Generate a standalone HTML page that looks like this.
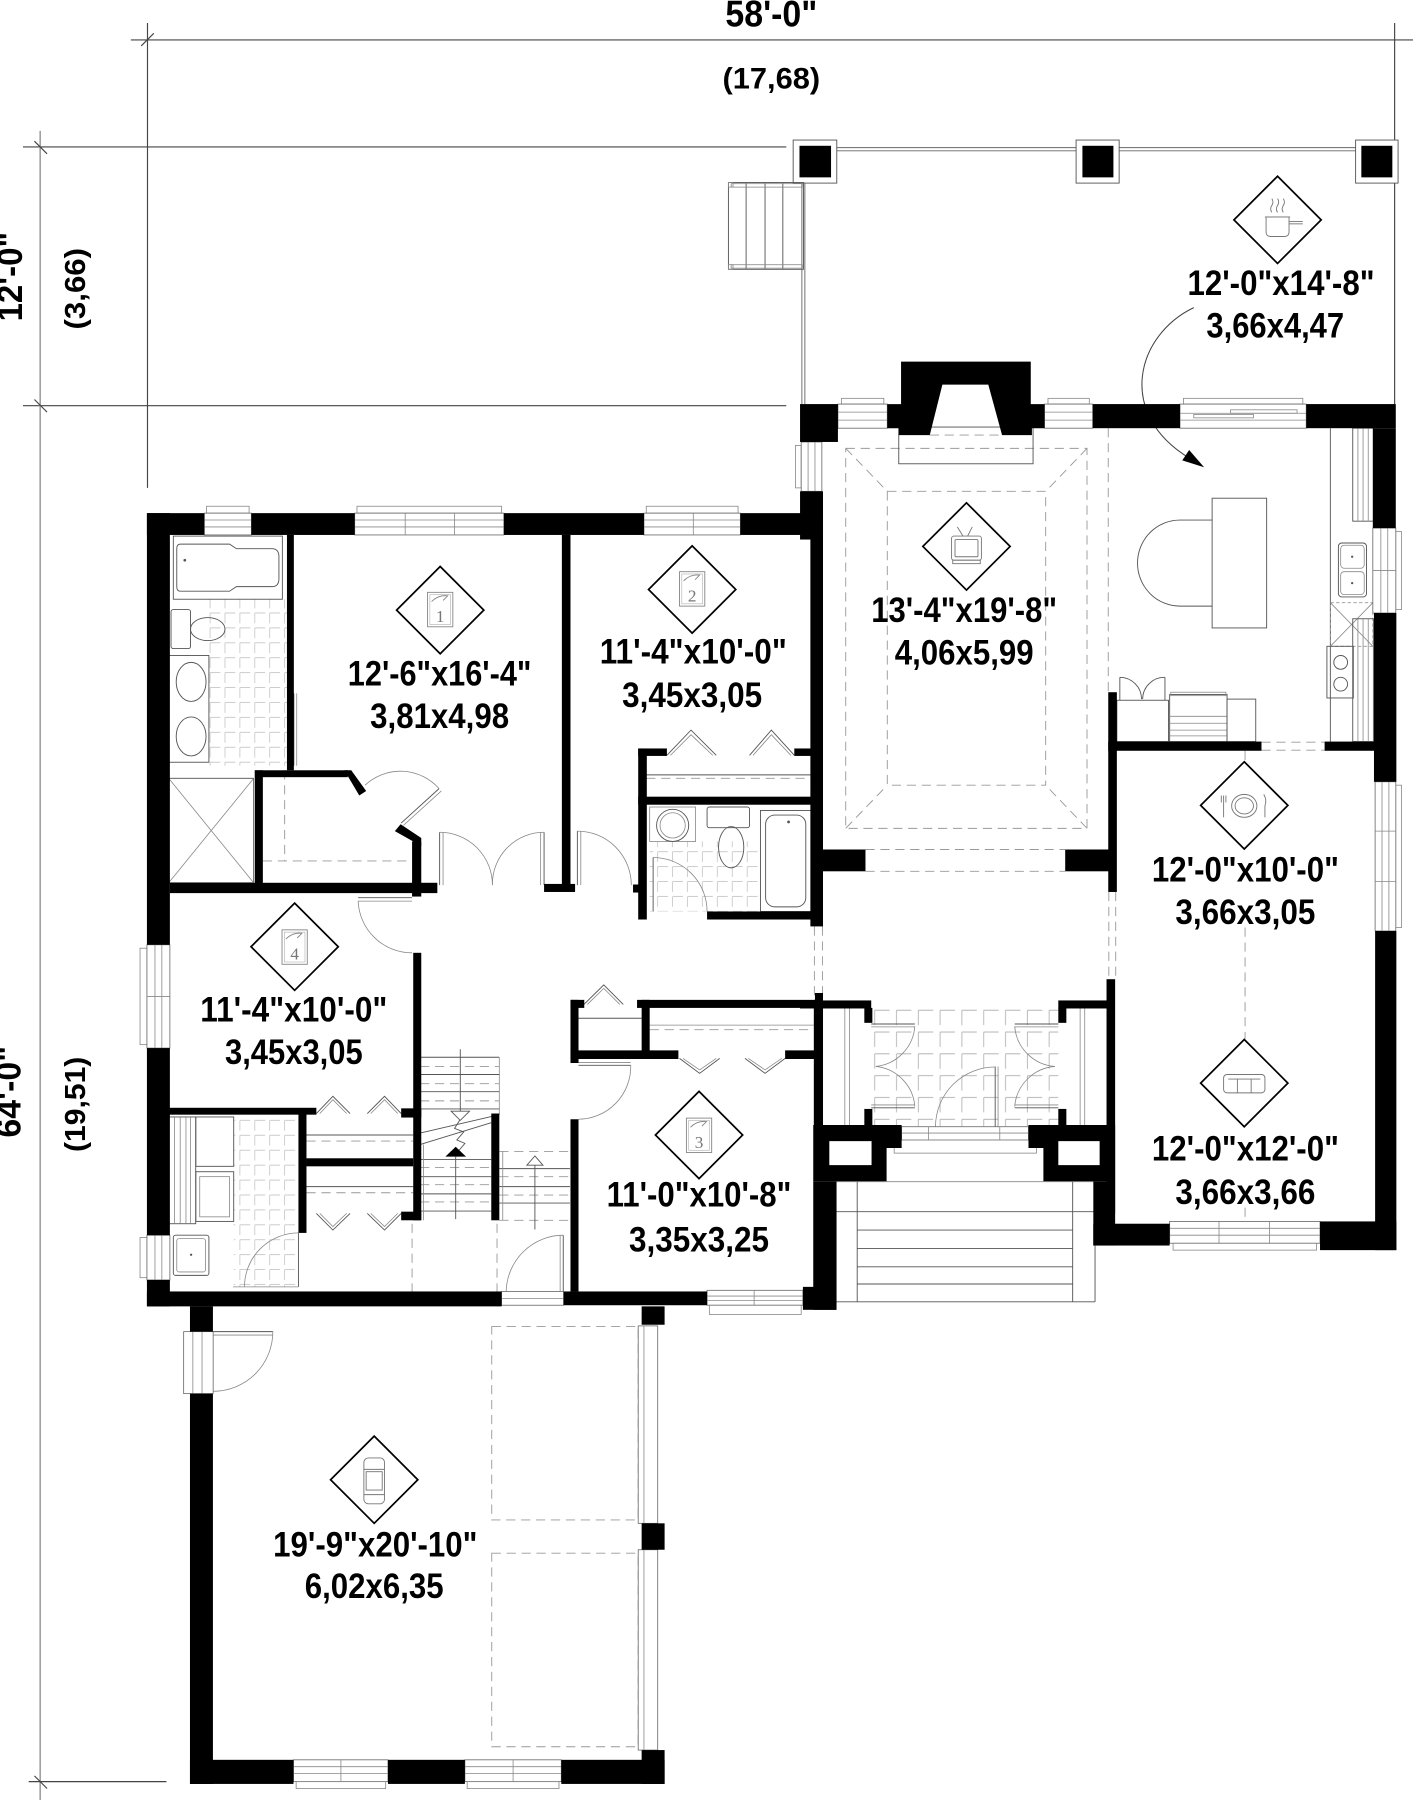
<!DOCTYPE html>
<html><head><meta charset="utf-8">
<style>
html,body{margin:0;padding:0;background:#fff;}
svg{display:block;}
.t{font-family:"Liberation Sans",Arial,sans-serif;font-weight:bold;fill:#000;}
.w{fill:#000;}
.th{fill:none;stroke:#555;stroke-width:.8;}
.lg{fill:none;stroke:#888;stroke-width:.7;}
.win{fill:#fff;stroke:#666;stroke-width:.7;}
.dash{fill:none;stroke:#999;stroke-width:.8;stroke-dasharray:8 5;}
.dim{stroke:#444;stroke-width:1;fill:none;}
</style></head><body>
<svg xmlns="http://www.w3.org/2000/svg" width="1413" height="1800" viewBox="0 0 1231 1568" preserveAspectRatio="none">
<defs>
<pattern id="tile" width="13" height="13" patternUnits="userSpaceOnUse"><path d="M1 1H10M1 1V10" stroke="#bbb" stroke-width=".6" fill="none"/></pattern>
<pattern id="tile2" x="760" y="878" width="19" height="19" patternUnits="userSpaceOnUse"><path d="M2 2H15M2 2V15" stroke="#aaa" stroke-width=".7" fill="none"/></pattern>
</defs>
<rect width="1231" height="1568" fill="#fff"/>

<!-- DIMENSIONS -->
<line class="dim" x1="114" y1="34.8" x2="1231" y2="34.8"/>
<line class="dim" x1="128.5" y1="20" x2="128.5" y2="425"/>
<line class="dim" x1="20" y1="128" x2="685" y2="128"/>
<line class="dim" x1="20" y1="353.4" x2="685" y2="353.4"/>
<line x1="35" y1="114" x2="35" y2="1568" stroke="#999" stroke-width="1.3"/>
<line class="dim" x1="25" y1="1552" x2="145" y2="1552"/>
<line class="dim" x1="123" y1="40" x2="134" y2="29"/>
<line class="dim" x1="30" y1="123" x2="41" y2="134"/>
<line class="dim" x1="30" y1="348" x2="41" y2="359"/>
<line class="dim" x1="30" y1="1547" x2="41" y2="1558"/>
<line class="dim" x1="1215" y1="20" x2="1215" y2="352"/>

<text class="t" x="672" y="23" font-size="32" text-anchor="middle" textLength="80" lengthAdjust="spacingAndGlyphs">58'-0"</text>
<text class="t" x="672" y="77" font-size="26" text-anchor="middle" textLength="85" lengthAdjust="spacingAndGlyphs">(17,68)</text>
<text class="t" transform="translate(19,241) rotate(-90)" font-size="31" text-anchor="middle" textLength="78" lengthAdjust="spacingAndGlyphs">12'-0"</text>
<text class="t" transform="translate(74,251.5) rotate(-90)" font-size="25" text-anchor="middle" textLength="71" lengthAdjust="spacingAndGlyphs">(3,66)</text>
<text class="t" transform="translate(18,951) rotate(-90)" font-size="31" text-anchor="middle" textLength="80" lengthAdjust="spacingAndGlyphs">64'-0"</text>
<text class="t" transform="translate(74,962) rotate(-90)" font-size="25" text-anchor="middle" textLength="83" lengthAdjust="spacingAndGlyphs">(19,51)</text>

<!-- PORCH -->
<line x1="729" y1="128.6" x2="937.5" y2="128.6" stroke="#666" stroke-width=".8"/>
<line x1="729" y1="131.4" x2="937.5" y2="131.4" stroke="#666" stroke-width=".8"/>
<line x1="975" y1="128.6" x2="1181" y2="128.6" stroke="#666" stroke-width=".8"/>
<line x1="975" y1="131.4" x2="1181" y2="131.4" stroke="#666" stroke-width=".8"/>
<rect x="691" y="122" width="38" height="37.5" fill="#fff" stroke="#555" stroke-width=".8"/>
<rect x="696.5" y="127" width="27.5" height="27.5" fill="#000"/>
<rect x="937.5" y="122" width="37.5" height="37.5" fill="#fff" stroke="#555" stroke-width=".8"/>
<rect x="943" y="127" width="27" height="27.5" fill="#000"/>
<rect x="1181" y="122" width="37" height="37.5" fill="#fff" stroke="#555" stroke-width=".8"/>
<rect x="1186" y="127" width="27" height="27.5" fill="#000"/>
<line x1="698.6" y1="159" x2="698.6" y2="352" stroke="#666" stroke-width=".8"/>
<line x1="701.2" y1="159" x2="701.2" y2="352" stroke="#666" stroke-width=".8"/>
<rect x="634.6" y="159" width="65.4" height="75.6" class="th"/>
<line x1="650" y1="159" x2="650" y2="234.6" class="th"/>
<line x1="666.5" y1="159" x2="666.5" y2="234.6" class="th"/>
<line x1="682" y1="159" x2="682" y2="234.6" class="th"/>
<rect x="637" y="160" width="62" height="3" class="lg"/>
<rect x="637" y="230.6" width="62" height="3" class="lg"/>
<rect x="634.6" y="159" width="4" height="4" class="lg"/>
<rect x="634.6" y="230.6" width="4" height="4" class="lg"/>

<!-- KITCHEN ARROW -->
<path d="M1040,268 C990,292 972,360 1036,399" fill="none" stroke="#444" stroke-width=".9"/>
<polygon points="1049,407 1030,401 1036,392" fill="#000"/>

<!-- FAMILY ROOM CEILING -->
<rect x="736.8" y="390.6" width="210.2" height="331" class="dash"/>
<rect x="773" y="428" width="138" height="256" class="dash"/>
<line x1="736.8" y1="390.6" x2="773" y2="428" class="dash"/>
<line x1="947" y1="390.6" x2="911" y2="428" class="dash"/>
<line x1="736.8" y1="721.6" x2="773" y2="684" class="dash"/>
<line x1="947" y1="721.6" x2="911" y2="684" class="dash"/>
<line x1="965.5" y1="373" x2="965.5" y2="603" class="dash"/>
<rect x="783" y="372" width="117" height="32" class="th" fill="#fff"/>
<line x1="810" y1="379" x2="873" y2="379" class="dash"/>
<line x1="754" y1="740" x2="928" y2="740" class="dash"/>
<line x1="754" y1="759" x2="928" y2="759" class="dash"/>
<line x1="966" y1="777" x2="966" y2="853" class="dash"/>
<line x1="972" y1="777" x2="972" y2="853" class="dash"/>
<line x1="709.5" y1="807" x2="709.5" y2="871" class="dash"/>
<line x1="716.5" y1="807" x2="716.5" y2="871" class="dash"/>
<line x1="1099" y1="646.5" x2="1154" y2="646.5" class="dash"/>
<line x1="1099" y1="653.5" x2="1154" y2="653.5" class="dash"/>
<line x1="1084.7" y1="654" x2="1084.7" y2="664" class="dash"/>
<line x1="1084.7" y1="808" x2="1084.7" y2="905" class="dash"/>
<line x1="1084.7" y1="1052" x2="1084.7" y2="1064" class="dash"/>

<!-- KITCHEN FIXTURES -->
<line x1="1159" y1="373" x2="1159" y2="646" class="th"/>
<rect x="1178.5" y="373" width="18" height="81" class="th"/>
<line x1="1183" y1="373" x2="1183" y2="454" class="lg"/>
<line x1="1187.5" y1="373" x2="1187.5" y2="454" class="lg"/>
<line x1="1192" y1="373" x2="1192" y2="454" class="lg"/>
<rect x="1166" y="473" width="24.5" height="47" rx="3" class="th"/>
<rect x="1168" y="475" width="20.5" height="20" rx="3" class="lg"/>
<rect x="1168" y="498" width="20.5" height="20" rx="3" class="lg"/>
<circle cx="1178" cy="485" r="1" fill="#555"/>
<circle cx="1178" cy="508" r="1" fill="#555"/>
<rect x="1159" y="525" width="37" height="38" fill="none" stroke="#999" stroke-width=".7" stroke-dasharray="3 2"/>
<line x1="1159" y1="525" x2="1196" y2="563" class="lg"/>
<line x1="1196" y1="525" x2="1159" y2="563" class="lg"/>
<rect x="1156" y="563" width="23" height="45" class="th"/>
<circle cx="1168" cy="577" r="6" class="th"/>
<circle cx="1168" cy="596" r="6" class="th"/>
<rect x="1178.5" y="539" width="18" height="107" class="th"/>
<line x1="1183" y1="539" x2="1183" y2="646" class="lg"/>
<line x1="1187.5" y1="539" x2="1187.5" y2="646" class="lg"/>
<line x1="1192" y1="539" x2="1192" y2="646" class="lg"/>
<rect x="1056" y="434" width="47.5" height="113" class="th" fill="#fff"/>
<path d="M1056,453 H1028 A37,37.5 0 0 0 1028,528 H1056" class="th"/>
<line x1="975.6" y1="590" x2="975.6" y2="610" class="th"/>
<line x1="1014.9" y1="590" x2="1014.9" y2="610" class="th"/>
<path d="M975.6,590 A19,19 0 0 1 994.5,609" class="th"/>
<path d="M1014.9,590 A19,19 0 0 0 995.5,609" class="th"/>
<rect x="973" y="610" width="45" height="36" class="th"/>
<rect x="1019" y="605" width="50" height="41" class="th"/>
<rect x="1020" y="603" width="48" height="3" class="lg"/>
<line x1="1019" y1="624" x2="1069" y2="624" class="lg"/>
<line x1="1019" y1="630" x2="1069" y2="630" class="lg"/>
<line x1="1019" y1="636" x2="1069" y2="636" class="lg"/>
<line x1="1019" y1="641" x2="1069" y2="641" class="lg"/>
<rect x="1069" y="609" width="25" height="37" class="th"/>

<!-- MASTER BATH -->
<rect x="182" y="522" width="68" height="145" fill="url(#tile)"/>
<rect x="151" y="467" width="95" height="55" class="th"/>
<path d="M157,474 H200 L206,478 H237 Q243,478 243,485 V504 Q243,511 237,511 H206 L200,515 H157 Q154,515 154,511 V478 Q154,474 157,474 Z" class="th"/>
<circle cx="161" cy="488" r="1.2" fill="#555"/>
<rect x="149" y="531" width="17" height="34" rx="2" class="th"/>
<ellipse cx="181" cy="548" rx="15" ry="10" class="th"/>
<rect x="147" y="571" width="35" height="93" class="th"/>
<ellipse cx="166.5" cy="594" rx="13" ry="17" class="th"/>
<ellipse cx="166.5" cy="641.5" rx="13" ry="17" class="th"/>
<rect x="147" y="678" width="74" height="91" class="th"/>
<line x1="147" y1="678" x2="221" y2="769" class="lg"/>
<line x1="221" y1="678" x2="147" y2="769" class="lg"/>
<line x1="256" y1="604" x2="256" y2="667" class="th"/>
<line x1="258.5" y1="604" x2="258.5" y2="667" class="lg"/>
<line x1="248" y1="671" x2="248" y2="750" class="dash"/>
<line x1="229" y1="750" x2="359" y2="750" class="dash"/>
<line x1="349.5" y1="717" x2="382.5" y2="687" class="th"/>
<line x1="351.5" y1="719" x2="384.5" y2="689" class="lg"/>
<path d="M382.5,687 A45,45 0 0 0 318,684" class="lg"/>

<!-- BEDROOM DOORS -->
<line x1="383" y1="771" x2="383" y2="725" class="th"/>
<line x1="386" y1="771" x2="386" y2="725" class="lg"/>
<path d="M383,725 A46,46 0 0 1 429,771" class="lg"/>
<line x1="474" y1="771" x2="474" y2="725" class="th"/>
<line x1="471" y1="771" x2="471" y2="725" class="lg"/>
<path d="M474,725 A45,45 0 0 0 429,771" class="lg"/>
<line x1="503" y1="771" x2="503" y2="724" class="th"/>
<line x1="506" y1="771" x2="506" y2="724" class="lg"/>
<path d="M503,724 A47,47 0 0 1 550,771" class="lg"/>
<polyline points="581,658 602,636 624,658" class="th"/>
<polyline points="584,658 602,640 621,658" class="lg"/>
<polyline points="653,658 672,636 692,658" class="th"/>
<polyline points="656,658 672,640 689,658" class="lg"/>
<line x1="563" y1="675" x2="709" y2="675" class="th"/>
<line x1="563" y1="678" x2="709" y2="678" class="dash"/>
<!-- bath 2 -->
<rect x="566" y="733" width="96" height="61" fill="url(#tile)"/>
<rect x="566" y="703" width="40" height="30" class="lg"/>
<circle cx="586" cy="719" r="14" class="th"/>
<circle cx="586" cy="719" r="11" class="lg"/>
<rect x="616" y="703" width="37" height="18" rx="2" class="th"/>
<ellipse cx="637" cy="738" rx="11" ry="18" class="th"/>
<rect x="662.5" y="706" width="44.5" height="88" class="th"/>
<rect x="667" y="710" width="35" height="80" rx="8" class="th"/>
<circle cx="687" cy="716" r="1.2" fill="#555"/>
<line x1="569" y1="747" x2="569" y2="794" class="th"/>
<path d="M569,747 A47,47 0 0 1 616,794" class="lg"/>

<!-- BEDROOM 4 door & closets -->
<line x1="312" y1="782" x2="359" y2="782" class="th"/>
<line x1="312" y1="785" x2="359" y2="785" class="lg"/>
<path d="M312,785 A47,47 0 0 0 359,830" class="lg"/>
<polyline points="275.6,970 290,955 305,970" class="th"/>
<polyline points="278.6,970 290,958 302,970" class="lg"/>
<polyline points="320,970 335,955 349.5,970" class="th"/>
<polyline points="323,970 335,958 346.5,970" class="lg"/>
<line x1="267" y1="988.7" x2="360" y2="988.7" class="th"/>
<line x1="267" y1="994" x2="360" y2="994" class="dash"/>
<line x1="267" y1="1033.7" x2="360" y2="1033.7" class="th"/>
<line x1="267" y1="1039" x2="360" y2="1039" class="dash"/>
<polyline points="275.6,1057 290,1071.5 305,1057" class="th"/>
<polyline points="278.6,1057 290,1068.5 302,1057" class="lg"/>
<polyline points="320,1057 335,1071.5 349.5,1057" class="th"/>
<polyline points="323,1057 335,1068.5 346.5,1057" class="lg"/>
<!-- laundry -->
<rect x="203.6" y="973" width="56.4" height="148" fill="url(#tile)"/>
<rect x="147" y="973" width="23.5" height="93" class="th"/>
<line x1="152" y1="973" x2="152" y2="1066" class="lg"/>
<line x1="157" y1="973" x2="157" y2="1066" class="lg"/>
<line x1="162" y1="973" x2="162" y2="1066" class="lg"/>
<line x1="166" y1="973" x2="166" y2="1066" class="lg"/>
<rect x="170.6" y="973" width="33" height="43" class="th"/>
<rect x="170.6" y="1020.7" width="33" height="43.3" class="th"/>
<rect x="174" y="1025" width="26" height="35" class="lg"/>
<rect x="151" y="1076" width="31" height="35" rx="2" class="th"/>
<rect x="154" y="1079" width="25" height="29" rx="2" class="lg"/>
<circle cx="166.5" cy="1093" r="1" fill="#555"/>
<line x1="260" y1="1074" x2="260" y2="1121" class="th"/>
<path d="M260,1074 A47,47 0 0 0 213,1121" class="lg"/>
<line x1="203" y1="1121" x2="260" y2="1121" class="lg"/>

<!-- STAIRS -->
<line x1="366" y1="921" x2="435" y2="921" class="th"/>
<line x1="435" y1="921" x2="435" y2="971" class="lg"/>
<line x1="366" y1="936" x2="435" y2="936" class="th"/>
<line x1="366" y1="929" x2="435" y2="929" class="dash"/>
<line x1="366" y1="951" x2="435" y2="951" class="th"/>
<line x1="366" y1="944" x2="435" y2="944" class="dash"/>
<line x1="366" y1="966" x2="435" y2="966" class="th"/>
<line x1="366" y1="959" x2="435" y2="959" class="dash"/>
<line x1="366" y1="987" x2="435" y2="971" class="th"/>
<line x1="366" y1="997" x2="428" y2="978" class="th"/>
<polyline points="401,975 396,983 404,986 398,993 405,996 400,1002" class="th"/>
<line x1="401" y1="914" x2="401" y2="968" class="th"/>
<polygon points="393,968 409,968 401,976" fill="#fff" stroke="#555" stroke-width=".8"/>
<line x1="366" y1="1010" x2="428" y2="1010" class="th"/>
<line x1="366" y1="1017" x2="428" y2="1017" class="dash"/>
<line x1="366" y1="1025" x2="428" y2="1025" class="th"/>
<line x1="366" y1="1032" x2="428" y2="1032" class="dash"/>
<line x1="366" y1="1040" x2="428" y2="1040" class="th"/>
<line x1="366" y1="1047" x2="428" y2="1047" class="dash"/>
<line x1="366" y1="1055" x2="428" y2="1055" class="th"/>
<line x1="369" y1="997" x2="369" y2="1063" class="lg"/>
<polygon points="397,999 388,1007.5 406,1007.5" fill="#000"/>
<line x1="397" y1="1007.5" x2="397" y2="1062" class="th"/>
<line x1="435" y1="1003" x2="496.5" y2="1003" class="dash"/>
<line x1="435" y1="1018" x2="496.5" y2="1018" class="th"/>
<line x1="435" y1="1025" x2="496.5" y2="1025" class="dash"/>
<line x1="435" y1="1033.7" x2="496.5" y2="1033.7" class="th"/>
<line x1="435" y1="1041" x2="496.5" y2="1041" class="dash"/>
<line x1="435" y1="1048" x2="496.5" y2="1048" class="th"/>
<line x1="435" y1="1063" x2="496.5" y2="1063" class="dash"/>
<line x1="438" y1="1003" x2="438" y2="1063" class="lg"/>
<polygon points="466,1007 459,1015 473,1015" fill="#fff" stroke="#555" stroke-width=".8"/>
<line x1="466" y1="1015" x2="466" y2="1071" class="th"/>
<line x1="359" y1="1066" x2="359" y2="1125" class="dash"/>
<line x1="433" y1="1066" x2="433" y2="1125" class="dash"/>

<!-- COAT CLOSET / BED3 -->
<polyline points="508.7,875 526,858 543,875" class="th"/>
<polyline points="511.7,875 526,861 540,875" class="lg"/>
<line x1="504" y1="887" x2="559" y2="887" class="th"/>
<line x1="566" y1="897" x2="709" y2="897" class="dash"/>
<line x1="566" y1="893" x2="709" y2="893" class="lg"/>
<polyline points="592,922 609.5,935 627,922" class="th"/>
<polyline points="595,922 609.5,932 624,922" class="lg"/>
<polyline points="649,922 666.5,935 684,922" class="th"/>
<polyline points="652,922 666.5,932 681,922" class="lg"/>
<line x1="504" y1="928" x2="549.5" y2="928" class="th"/>
<line x1="504" y1="925.5" x2="549.5" y2="925.5" class="lg"/>
<path d="M549.5,928 A46,46 0 0 1 504,975" class="lg"/>
<line x1="490.7" y1="1076" x2="490.7" y2="1125" class="th"/>
<line x1="488" y1="1076" x2="488" y2="1125" class="lg"/>
<path d="M490.7,1076 A50,50 0 0 0 441,1125" class="lg"/>
<rect x="437" y="1125" width="54" height="12" class="win"/>
<line x1="437" y1="1131" x2="491" y2="1131" class="lg"/>

<!-- FOYER -->
<rect x="760" y="878" width="162" height="103" fill="url(#tile2)"/>
<line x1="736" y1="878" x2="736" y2="981" class="lg"/>
<line x1="740" y1="878" x2="740" y2="981" class="lg"/>
<line x1="945" y1="878" x2="945" y2="981" class="lg"/>
<line x1="941" y1="878" x2="941" y2="981" class="lg"/>
<line x1="759" y1="892" x2="797" y2="892" class="th"/>
<line x1="759" y1="894.5" x2="797" y2="894.5" class="lg"/>
<path d="M797,894 A38,38 0 0 1 763,929" class="lg"/>
<line x1="759" y1="965" x2="797" y2="965" class="th"/>
<line x1="759" y1="962.5" x2="797" y2="962.5" class="lg"/>
<path d="M797,964 A38,38 0 0 0 763,929" class="lg"/>
<line x1="884" y1="892" x2="922" y2="892" class="th"/>
<line x1="884" y1="894.5" x2="922" y2="894.5" class="lg"/>
<path d="M884,894 A38,38 0 0 0 919,929" class="lg"/>
<line x1="884" y1="965" x2="922" y2="965" class="th"/>
<line x1="884" y1="962.5" x2="922" y2="962.5" class="lg"/>
<path d="M884,964 A38,38 0 0 1 919,929" class="lg"/>
<line x1="867" y1="929" x2="867" y2="981.5" class="th"/>
<line x1="869.5" y1="929" x2="869.5" y2="981.5" class="lg"/>
<path d="M867,929.5 A52,52 0 0 0 815,981.5" class="lg"/>
<rect x="785.5" y="981.5" width="110.5" height="11.5" class="win"/>
<line x1="785.5" y1="987" x2="896" y2="987" class="lg"/>
<line x1="809" y1="981.5" x2="809" y2="993" class="lg"/>
<line x1="871" y1="981.5" x2="871" y2="993" class="lg"/>
<rect x="779" y="993" width="124" height="11.5" class="lg"/>
<line x1="728.8" y1="1029.4" x2="954" y2="1029.4" class="lg"/>
<line x1="746.8" y1="1029.4" x2="746.8" y2="1134" class="th"/>
<line x1="934.5" y1="1029.4" x2="934.5" y2="1134" class="th"/>
<line x1="728.8" y1="1055.5" x2="954" y2="1055.5" class="th"/>
<line x1="746.8" y1="1071.5" x2="934.5" y2="1071.5" class="th"/>
<line x1="746.8" y1="1087.5" x2="934.5" y2="1087.5" class="th"/>
<line x1="746.8" y1="1103.5" x2="934.5" y2="1103.5" class="th"/>
<line x1="746.8" y1="1118.5" x2="934.5" y2="1118.5" class="th"/>
<line x1="728.8" y1="1134" x2="954" y2="1134" class="th"/>
<line x1="954" y1="1085" x2="954" y2="1134" class="th"/>

<!-- GARAGE -->
<rect x="428.4" y="1155.6" width="127.6" height="168.4" class="dash"/>
<rect x="428.4" y="1353" width="127.6" height="168.6" class="dash"/>
<rect x="556" y="1155" width="17" height="172" class="win"/>
<line x1="561" y1="1155" x2="561" y2="1327" class="lg"/>
<rect x="556" y="1350" width="17" height="174.5" class="win"/>
<line x1="561" y1="1350" x2="561" y2="1524.5" class="lg"/>
<rect x="160" y="1160" width="25.7" height="54" class="win"/>
<line x1="168" y1="1160" x2="168" y2="1214" class="lg"/>
<line x1="176" y1="1160" x2="176" y2="1214" class="lg"/>
<line x1="185.7" y1="1160" x2="237.7" y2="1160" class="th"/>
<line x1="185.7" y1="1163" x2="237.7" y2="1163" class="lg"/>
<path d="M237.7,1160 A52,52 0 0 1 185.7,1212" class="lg"/>

<!-- WINDOWS -->
<rect x="180" y="441" width="37" height="6" class="lg"/>
<rect x="178" y="447" width="41" height="19" class="win"/>
<line x1="178" y1="453" x2="219" y2="453" class="lg"/><line x1="178" y1="459" x2="219" y2="459" class="lg"/>
<rect x="311" y="441" width="126" height="6" class="lg"/>
<rect x="309" y="447" width="130" height="19" class="win"/>
<line x1="309" y1="453" x2="439" y2="453" class="lg"/><line x1="309" y1="459" x2="439" y2="459" class="lg"/>
<line x1="353" y1="447" x2="353" y2="466" class="lg"/><line x1="396" y1="447" x2="396" y2="466" class="lg"/>
<rect x="563" y="441" width="80" height="6" class="lg"/>
<rect x="561" y="447" width="84" height="19" class="win"/>
<line x1="561" y1="453" x2="645" y2="453" class="lg"/><line x1="561" y1="459" x2="645" y2="459" class="lg"/>
<line x1="604" y1="447" x2="604" y2="466" class="lg"/>
<rect x="122" y="826" width="6" height="84" class="lg"/>
<rect x="128" y="823" width="20" height="90" class="win"/>
<line x1="135" y1="823" x2="135" y2="913" class="lg"/><line x1="141" y1="823" x2="141" y2="913" class="lg"/>
<line x1="128" y1="868" x2="148" y2="868" class="lg"/>
<rect x="122" y="1078" width="6" height="35" class="lg"/>
<rect x="128" y="1076" width="20" height="39" class="win"/>
<line x1="135" y1="1076" x2="135" y2="1115" class="lg"/><line x1="141" y1="1076" x2="141" y2="1115" class="lg"/>
<rect x="616" y="1124" width="83.5" height="13" class="win"/>
<line x1="616" y1="1129" x2="699.5" y2="1129" class="lg"/><line x1="616" y1="1133" x2="699.5" y2="1133" class="lg"/>
<line x1="657" y1="1124" x2="657" y2="1137" class="lg"/>
<rect x="618" y="1137" width="80" height="8" class="lg"/>
<rect x="255.7" y="1533" width="82.3" height="19" class="win"/>
<line x1="255.7" y1="1539" x2="338" y2="1539" class="lg"/><line x1="255.7" y1="1545" x2="338" y2="1545" class="lg"/>
<line x1="297" y1="1533" x2="297" y2="1552" class="lg"/>
<rect x="258" y="1552" width="78" height="6" class="lg"/>
<rect x="405" y="1533" width="84" height="19" class="win"/>
<line x1="405" y1="1539" x2="489" y2="1539" class="lg"/><line x1="405" y1="1545" x2="489" y2="1545" class="lg"/>
<line x1="447" y1="1533" x2="447" y2="1552" class="lg"/>
<rect x="407" y="1552" width="80" height="6" class="lg"/>
<rect x="733" y="347" width="37" height="5" class="lg"/>
<rect x="730" y="352" width="43" height="21" class="win"/>
<line x1="730" y1="359" x2="773" y2="359" class="lg"/><line x1="730" y1="366" x2="773" y2="366" class="lg"/>
<rect x="913" y="347" width="36" height="5" class="lg"/>
<rect x="910" y="352" width="42" height="21" class="win"/>
<line x1="910" y1="359" x2="952" y2="359" class="lg"/><line x1="910" y1="366" x2="952" y2="366" class="lg"/>
<rect x="693" y="388" width="5" height="37" class="lg"/>
<rect x="698" y="385" width="18" height="43" class="win"/>
<line x1="704" y1="385" x2="704" y2="428" class="lg"/><line x1="710" y1="385" x2="710" y2="428" class="lg"/>
<rect x="1031" y="347" width="104" height="5" class="lg"/>
<rect x="1028" y="352" width="110" height="21" class="win"/>
<line x1="1028" y1="360" x2="1138" y2="360" class="lg"/><line x1="1028" y1="366" x2="1138" y2="366" class="lg"/>
<rect x="1040" y="361" width="52" height="3" class="lg"/>
<rect x="1072" y="357" width="58" height="3" class="lg"/>
<rect x="1196" y="460" width="20" height="74" class="win"/>
<line x1="1203" y1="460" x2="1203" y2="534" class="lg"/><line x1="1209" y1="460" x2="1209" y2="534" class="lg"/>
<line x1="1196" y1="497" x2="1216" y2="497" class="lg"/>
<rect x="1216" y="463" width="5" height="68" class="lg"/>
<rect x="1198" y="681" width="18" height="130" class="win"/>
<line x1="1204" y1="681" x2="1204" y2="811" class="lg"/><line x1="1210" y1="681" x2="1210" y2="811" class="lg"/>
<line x1="1198" y1="724" x2="1216" y2="724" class="lg"/><line x1="1198" y1="768" x2="1216" y2="768" class="lg"/>
<rect x="1216" y="684" width="5" height="124" class="lg"/>
<rect x="1019" y="1064" width="131" height="19" class="win"/>
<line x1="1019" y1="1070" x2="1150" y2="1070" class="lg"/><line x1="1019" y1="1076" x2="1150" y2="1076" class="lg"/>
<line x1="1062" y1="1064" x2="1062" y2="1083" class="lg"/><line x1="1106" y1="1064" x2="1106" y2="1083" class="lg"/>
<rect x="1022" y="1083" width="125" height="6" class="lg"/>

<!-- WALLS -->
<g class="w">
<rect x="128" y="447" width="50" height="19"/>
<rect x="219" y="447" width="90" height="19"/>
<rect x="439" y="447" width="122" height="19"/>
<rect x="645" y="447" width="72" height="19"/>
<rect x="128" y="447" width="20" height="376"/>
<rect x="128" y="913" width="20" height="163"/>
<rect x="128" y="1115" width="20" height="23"/>
<rect x="128" y="1125" width="309" height="13"/>
<rect x="491" y="1125" width="125" height="12"/>
<rect x="699.5" y="1121" width="29" height="20"/>
<rect x="489.5" y="466" width="7.5" height="305"/>
<rect x="474" y="770" width="27" height="7"/>
<rect x="148" y="769" width="233" height="9"/>
<rect x="222" y="671" width="7" height="100"/>
<rect x="222" y="671" width="81" height="6"/>
<polygon points="300,671 306,671 319,689 313,693"/>
<polygon points="344,724 349,718 367,730 367,737"/>
<rect x="359" y="733" width="8" height="48"/>
<rect x="250" y="466" width="6" height="205"/>
<rect x="556" y="652" width="7.5" height="149"/>
<rect x="556" y="652" width="25" height="6.5"/>
<rect x="692" y="652" width="23" height="6.5"/>
<rect x="556" y="694" width="159" height="7"/>
<rect x="616" y="794" width="99" height="7"/>
<rect x="551.5" y="770.5" width="8" height="7"/>
<rect x="706" y="466" width="11" height="341"/>
<rect x="697" y="352" width="33" height="33"/>
<rect x="697" y="428" width="20" height="42"/>
<rect x="716" y="740" width="38" height="19"/>
<rect x="360" y="830" width="7" height="233"/>
<rect x="349.5" y="965.5" width="17.5" height="8"/>
<rect x="349.5" y="1055.5" width="17.5" height="7.5"/>
<rect x="147" y="965" width="128.6" height="6"/>
<rect x="260" y="970" width="7" height="104"/>
<rect x="267" y="1009" width="93" height="7"/>
<rect x="428" y="970" width="7" height="93"/>
<rect x="497" y="975" width="7" height="150"/>
<rect x="497" y="871" width="7" height="55"/>
<rect x="497" y="871" width="12" height="7"/>
<rect x="497" y="915" width="94" height="7.5"/>
<rect x="559" y="871" width="7" height="51"/>
<rect x="555" y="871" width="162" height="7"/>
<rect x="684" y="915" width="30" height="7.5"/>
<rect x="709" y="871" width="8" height="110"/>
<rect x="697" y="871.5" width="62" height="7"/>
<rect x="922" y="871.5" width="44" height="7"/>
<rect x="753" y="878" width="7" height="13"/>
<rect x="922" y="878" width="7" height="13"/>
<rect x="710" y="865" width="7" height="116"/>
<rect x="964" y="853" width="7.5" height="204"/>
<rect x="753" y="966" width="7" height="15"/>
<rect x="922" y="966" width="7" height="15"/>
<path fill-rule="evenodd" d="M708.5,980 H785.5 V1000 H772.4 V1029 H708.5 Z M722.5,994 H759.3 V1015 H722.5 Z"/>
<rect x="708.5" y="1029" width="20.3" height="112"/>
<path fill-rule="evenodd" d="M896,980 H971.5 V1029 H909 V1000 H896 Z M922,994 H958 V1015 H922 Z"/>
<rect x="952.5" y="1029" width="19" height="56"/>
<rect x="952.5" y="1066" width="66.5" height="19"/>
<rect x="928" y="740" width="44" height="19"/>
<rect x="965.5" y="603" width="7.5" height="174"/>
<rect x="965.5" y="646" width="133.5" height="8"/>
<rect x="1154" y="646" width="62" height="8"/>
<rect x="1138" y="352" width="78" height="21"/>
<rect x="1196" y="373" width="20" height="87"/>
<rect x="1197" y="534" width="19.5" height="147"/>
<rect x="1198" y="811" width="18.5" height="278"/>
<rect x="1150" y="1064" width="66.5" height="25"/>
<rect x="952" y="352" width="76" height="21"/>
<path fill-rule="evenodd" d="M785,315 H898 V352 H910 V373 H899 V379 H873 L861,335 H821 L810,379 H783 V373 H773 V352 H785 Z"/>
<rect x="165.5" y="1138" width="20" height="22"/>
<rect x="165.5" y="1214" width="20" height="340"/>
<rect x="165.5" y="1533" width="90.2" height="21"/>
<rect x="338" y="1533" width="67" height="21"/>
<rect x="489" y="1533" width="90" height="21"/>
<rect x="559" y="1138" width="20" height="16"/>
<rect x="559" y="1327" width="20" height="23"/>
<rect x="559" y="1524.5" width="20" height="29.5"/>
</g>

<!-- ROOM LABEL DIAMONDS -->
<g fill="#fff" stroke="#000" stroke-width="1.5">
<polygon points="1113,153.5 1151,191.5 1113,229.5 1075,191.5"/>
<polygon points="842,438 880,476 842,514 804,476"/>
<polygon points="383.5,493.5 421.5,531.5 383.5,569.5 345.5,531.5"/>
<polygon points="603,475.5 641,513.5 603,551.5 565,513.5"/>
<polygon points="1084,663.6 1122,701.6 1084,739.6 1046,701.6"/>
<polygon points="1084,905.5 1122,943.5 1084,981.5 1046,943.5"/>
<polygon points="256.7,786.7 294.7,824.7 256.7,862.7 218.7,824.7"/>
<polygon points="609,950.7 647,988.7 609,1026.7 571,988.7"/>
<polygon points="326,1251 364,1289 326,1327 288,1289"/>
</g>

<!-- ICONS -->
<g transform="translate(1113,193)" fill="none" stroke="#777" stroke-width=".8">
<path d="M-10,-4 H10 V9 Q10,13 6,13 H-6 Q-10,13 -10,9 Z"/>
<line x1="-11" y1="-4" x2="11" y2="-4"/>
<line x1="10" y1="0" x2="22" y2="0"/><line x1="10" y1="2" x2="22" y2="2"/>
<path d="M-5,-8 q-2,-3 0,-6 q2,-3 0,-6"/><path d="M0,-8 q-2,-3 0,-6 q2,-3 0,-6"/><path d="M5,-8 q-2,-3 0,-6 q2,-3 0,-6"/>
</g>
<g transform="translate(842,478)" fill="none" stroke="#777" stroke-width=".8">
<rect x="-13" y="-11" width="26" height="21" rx="2"/>
<rect x="-10" y="-8" width="20" height="15" rx="1"/>
<line x1="-3" y1="-11" x2="-8" y2="-19"/><line x1="1" y1="-11" x2="5" y2="-19"/>
<rect x="-12" y="10" width="24" height="3"/>
</g>
<g fill="none" stroke="#888" stroke-width=".8">
<rect x="372.5" y="516" width="22" height="30"/><rect x="374.5" y="518" width="18" height="26" stroke="#aaa" stroke-width=".5"/>
<rect x="592" y="498" width="22" height="30"/><rect x="594" y="500" width="18" height="26" stroke="#aaa" stroke-width=".5"/>
<rect x="245.7" y="810" width="22" height="30"/><rect x="247.7" y="812" width="18" height="26" stroke="#aaa" stroke-width=".5"/>
<rect x="598" y="974" width="22" height="30"/><rect x="600" y="976" width="18" height="26" stroke="#aaa" stroke-width=".5"/>
<path d="M376,524 q6,-6 14,-5 l-4,4"/><path d="M595.5,506 q6,-6 14,-5 l-4,4"/>
<path d="M249,818 q6,-6 14,-5 l-4,4"/><path d="M601.5,982 q6,-6 14,-5 l-4,4"/>
</g>
<g font-family="Liberation Serif, serif" font-size="15" fill="#777" text-anchor="middle">
<text x="383.5" y="542">1</text><text x="603" y="524">2</text><text x="256.7" y="836">4</text><text x="609" y="1000">3</text>
</g>
<g transform="translate(1084,702)" fill="none" stroke="#777" stroke-width=".8">
<ellipse cx="0" cy="0" rx="11" ry="10"/><ellipse cx="0" cy="0" rx="8" ry="7"/>
<line x1="-18" y1="-9" x2="-18" y2="10"/><line x1="-20" y1="-9" x2="-20" y2="-3"/><line x1="-16" y1="-9" x2="-16" y2="-3"/>
<path d="M17,-10 q3,5 1,10 V10"/>
</g>
<g transform="translate(1084,944)" fill="none" stroke="#777" stroke-width=".8">
<rect x="-18" y="-8" width="36" height="16" rx="3"/>
<line x1="-14" y1="-4" x2="14" y2="-4"/>
<line x1="-6" y1="-4" x2="-6" y2="8"/><line x1="6" y1="-4" x2="6" y2="8"/>
</g>
<g transform="translate(326,1290)" fill="none" stroke="#777" stroke-width=".8">
<rect x="-9" y="-20" width="18" height="40" rx="4"/>
<rect x="-7" y="-8" width="14" height="16"/>
<line x1="-9" y1="-10" x2="9" y2="-10"/><line x1="-9" y1="12" x2="9" y2="12"/>
</g>

<!-- ROOM TEXT -->
<g class="t" font-size="31" text-anchor="middle">
<text x="1116" y="257" textLength="163" lengthAdjust="spacingAndGlyphs">12'-0"x14'-8"</text>
<text x="1111" y="294" textLength="120" lengthAdjust="spacingAndGlyphs">3,66x4,47</text>
<text x="840" y="542" textLength="162" lengthAdjust="spacingAndGlyphs">13'-4"x19'-8"</text>
<text x="840" y="579" textLength="121" lengthAdjust="spacingAndGlyphs">4,06x5,99</text>
<text x="383" y="597" textLength="160" lengthAdjust="spacingAndGlyphs">12'-6"x16'-4"</text>
<text x="383" y="634" textLength="121" lengthAdjust="spacingAndGlyphs">3,81x4,98</text>
<text x="604" y="578" textLength="163" lengthAdjust="spacingAndGlyphs">11'-4"x10'-0"</text>
<text x="603" y="616" textLength="122" lengthAdjust="spacingAndGlyphs">3,45x3,05</text>
<text x="1085" y="768" textLength="163" lengthAdjust="spacingAndGlyphs">12'-0"x10'-0"</text>
<text x="1085" y="805" textLength="122" lengthAdjust="spacingAndGlyphs">3,66x3,05</text>
<text x="1085" y="1011" textLength="163" lengthAdjust="spacingAndGlyphs">12'-0"x12'-0"</text>
<text x="1085" y="1049" textLength="122" lengthAdjust="spacingAndGlyphs">3,66x3,66</text>
<text x="256" y="890" textLength="163" lengthAdjust="spacingAndGlyphs">11'-4"x10'-0"</text>
<text x="256" y="927" textLength="120" lengthAdjust="spacingAndGlyphs">3,45x3,05</text>
<text x="609" y="1051" textLength="161" lengthAdjust="spacingAndGlyphs">11'-0"x10'-8"</text>
<text x="609" y="1090" textLength="122" lengthAdjust="spacingAndGlyphs">3,35x3,25</text>
<text x="327" y="1356" textLength="178" lengthAdjust="spacingAndGlyphs">19'-9"x20'-10"</text>
<text x="326" y="1392" textLength="121" lengthAdjust="spacingAndGlyphs">6,02x6,35</text>
</g>
</svg>
</body></html>
